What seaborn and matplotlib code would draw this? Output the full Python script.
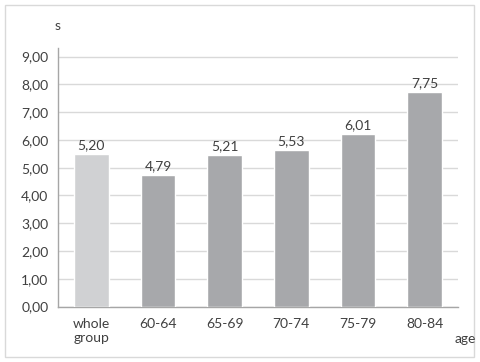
import matplotlib
matplotlib.use('Agg')
import matplotlib.pyplot as plt
import seaborn as sns
import pandas as pd
from matplotlib.patches import Rectangle

categories = ['whole\ngroup', '60-64', '65-69', '70-74', '75-79', '80-84']
heights = [5.50, 4.74, 5.46, 5.64, 6.22, 7.73]   # bar tops as drawn
labels = ['5,20', '4,79', '5,21', '5,53', '6,01', '7,75']
yticks = [0, 1, 2, 3, 4, 5, 6, 7, 8, 9]
ytick_labels = ['0,00', '1,00', '2,00', '3,00', '4,00', '5,00', '6,00', '7,00', '8,00', '9,00']
colors = ['#d0d1d3', '#a7a8ab', '#a7a8ab', '#a7a8ab', '#a7a8ab', '#a7a8ab']

sns.set_style('white')
plt.rcParams['font.family'] = ['Lato', 'DejaVu Sans']
text_col = '#404040'
fs = 10

data = pd.DataFrame({'cat': categories, 'val': heights})

fig = plt.figure(figsize=(4.8, 3.62), dpi=100)
fig.patches.append(Rectangle((5 / 480, 5 / 362), 469 / 480, 352 / 362, transform=fig.transFigure,
                             fill=False, edgecolor='#d9d9d9', linewidth=1))
ax = fig.add_axes([0.1208, 0.1533, 0.8333, 0.7133])

sns.barplot(data=data, x='cat', y='val', hue='cat', palette=colors, legend=False,
            width=0.52, saturation=1, ax=ax, zorder=3)

for c, lab in zip(ax.containers, labels):
    ax.bar_label(c, labels=[lab], padding=2, fontsize=fs, color=text_col)

ax.set_ylim(0, 9.3)
ax.set_xlim(-0.5, 5.5)
ax.set_yticks(yticks)
ax.set_yticklabels(ytick_labels)
ax.yaxis.grid(True, color='#d9d9d9', linewidth=1)
ax.set_axisbelow(True)
ax.tick_params(axis='both', length=0, labelsize=fs, labelcolor=text_col)
ax.tick_params(axis='x', pad=8)
ax.tick_params(axis='y', pad=7)
for s in ['top', 'right']:
    ax.spines[s].set_visible(False)
for s in ['left', 'bottom']:
    ax.spines[s].set_color('#a6a6a6')
    ax.spines[s].set_linewidth(1)
ax.set_xlabel('')
ax.set_ylabel('')

fig.text(58 / 480, 1 - 26 / 362, 's', ha='center', va='center', fontsize=fs, color=text_col)
fig.text(465 / 480, 1 - 339 / 362, 'age', ha='center', va='center', fontsize=fs, color=text_col)

fig.savefig('out.png', dpi=100)
